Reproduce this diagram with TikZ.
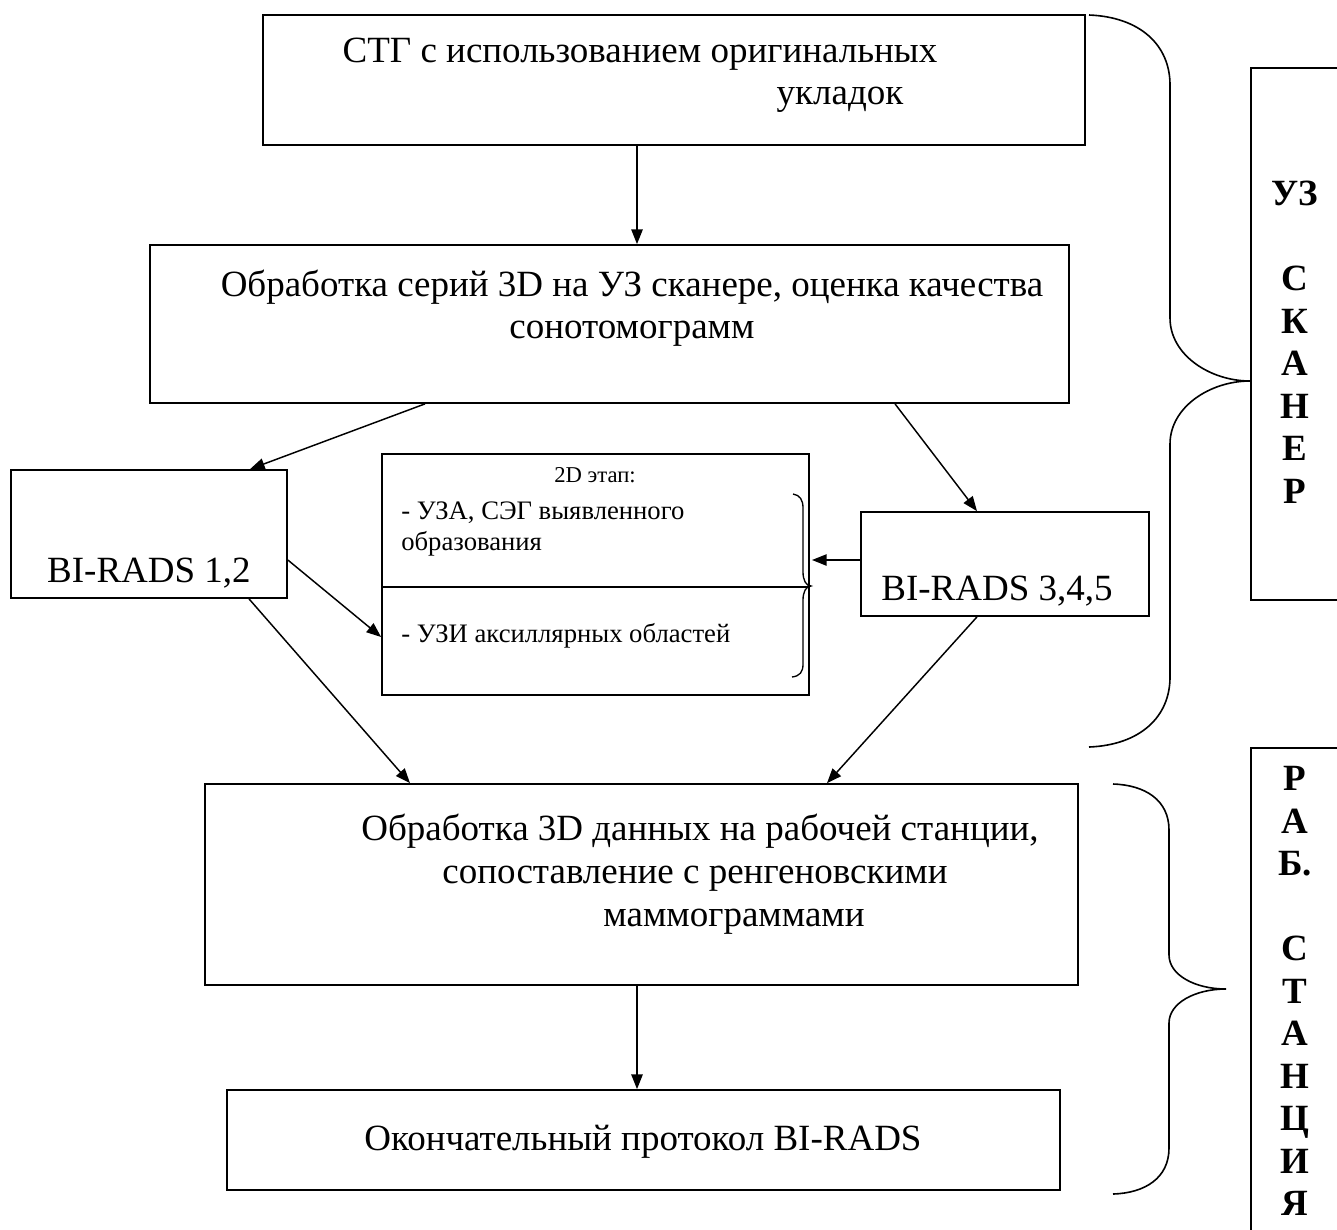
\documentclass[tikz,border=0pt]{standalone}
\usepackage{fontspec}
\setmainfont{Liberation Serif}
\usetikzlibrary{arrows.meta,fit}
\newcommand{\bigf}{\fontsize{27.75pt}{31.9pt}\selectfont}
\newcommand{\smallf}{\fontsize{20pt}{24pt}\selectfont}
\newcommand{\tinyf}{\fontsize{17pt}{20pt}\selectfont}
\begin{document}
\begin{tikzpicture}[x=0.75pt,y=-0.75pt,
  box/.style={draw,line width=1.3pt,inner sep=0pt},
  arr/.style={line width=1.1pt,-{Triangle[length=11pt,width=8.5pt]}},
  brace/.style={line width=1.2pt},
  big/.style={font=\bigf,inner sep=0pt},
  small/.style={font=\smallf,inner sep=0pt},
  vert/.style={font=\bigf\bfseries,align=center,inner sep=0pt}]
\useasboundingbox (0,0) rectangle (1337,1229);
% helper coordinates
\coordinate (c637) at (637,0);
\coordinate (c425) at (425,0);
\coordinate (c250) at (250,0);
\coordinate (c895) at (895,0);
\coordinate (c977) at (977,0);
\coordinate (c249) at (249,0);
\coordinate (c410) at (410,0);
\coordinate (c827) at (827,0);
\coordinate (r560) at (0,560);
\coordinate (r637) at (0,637);
\coordinate (div) at (0,587);
\coordinate (tipin) at (812,560);
% boxes
\node[box,fit={(263,15)(1085,145)}] (top) {};
\node[box,fit={(150,245)(1069,403)}] (box2) {};
\node[box,fit={(11,470)(287,598)}] (bi12) {};
\node[box,fit={(861,512)(1149,616)}] (bi345) {};
\node[box,fit={(382,454)(809,695)}] (twoD) {};
\node[box,fit={(205,784)(1078,985)}] (box3) {};
\node[box,fit={(227,1090)(1060,1190)}] (box4) {};
\node[box,fit={(1251,68)(1380,600)}] (uz) {};
\node[box,fit={(1251,748)(1380,1260)}] (rab) {};
\draw[line width=1pt] (twoD.west |- div) -- (twoD.east |- div);
% texts
\node[big,anchor=base] (t1a) at (640,62) {СТГ с использованием оригинальных};
\node[big,anchor=base] (t1b) at (840,104) {укладок};
\node[big,anchor=base] (t2a) at (632,296) {Обработка серий 3D на УЗ сканере, оценка качества};
\node[big,anchor=base] (t2b) at (632,338) {сонотомограмм};
\node[big,anchor=base] (t12) at (149,582) {BI-RADS 1,2};
\node[big,anchor=base] (t345) at (997,600) {BI-RADS 3,4,5};
\node[font=\tinyf,inner sep=0pt,anchor=base] (t2d) at (595,482) {2D этап:};
\node[small,anchor=base west] (t2da) at (401,519) {- УЗА, СЭГ выявленного};
\node[small,anchor=base west] (t2db) at (401,550) {образования};
\node[small,anchor=base west] (t2dc) at (401,642) {- УЗИ аксиллярных областей};
\node[big,anchor=base] (t3a) at (700,840) {Обработка 3D данных на рабочей станции,};
\node[big,anchor=base] (t3b) at (695,883) {сопоставление с ренгеновскими};
\node[big,anchor=base] (t3c) at (734,926) {маммограммами};
\node[big,anchor=base] (t4) at (643,1150) {Окончательный протокол BI-RADS};
\node[vert,anchor=north] (v1) at (1295,181) {УЗ\\[31.9pt]С\\К\\А\\Н\\Е\\Р};
\node[vert,anchor=north] (v2) at (1295,766) {Р\\А\\Б.\\[31.9pt]С\\Т\\А\\Н\\Ц\\И\\Я};
% arrows
\draw[arr] (top.south -| c637) -- (box2.north -| c637);
\draw[arr] (box2.south -| c425) -- (bi12.north -| c250);
\draw[arr] (box2.south -| c895) -- (bi345.north -| c977);
\draw[arr] (bi345.west |- r560) -- (tipin);
\draw[arr] (bi12.east |- r560) -- (twoD.west |- r637);
\draw[arr] (bi12.south -| c249) -- (box3.north -| c410);
\draw[arr] (bi345.south -| c977) -- (box3.north -| c827);
\draw[arr] (box3.south -| c637) -- (box4.north -| c637);
% braces
\draw[brace] (1089,15) .. controls (1140,17) and (1170,45) .. (1170,85) -- (1170,318)
  .. controls (1170,355) and (1210,381) .. (1250,381)
  .. controls (1210,381) and (1170,407) .. (1170,444) -- (1170,677)
  .. controls (1170,717) and (1140,745) .. (1089,747);
\draw[brace] (1113,784) .. controls (1145,785) and (1169,800) .. (1169,830) -- (1169,955)
  .. controls (1169,975) and (1195,989) .. (1226,989)
  .. controls (1195,989) and (1169,1003) .. (1169,1023) -- (1169,1148)
  .. controls (1169,1178) and (1145,1193) .. (1113,1194);
\draw[line width=1pt] (793,494) .. controls (800,495) and (803,500) .. (803,508) -- (803,572)
  .. controls (803,580) and (806,586) .. (811,586)
  .. controls (806,586) and (803,592) .. (803,600) -- (803,664)
  .. controls (803,672) and (800,676) .. (792,677);
\end{tikzpicture}
\end{document}
